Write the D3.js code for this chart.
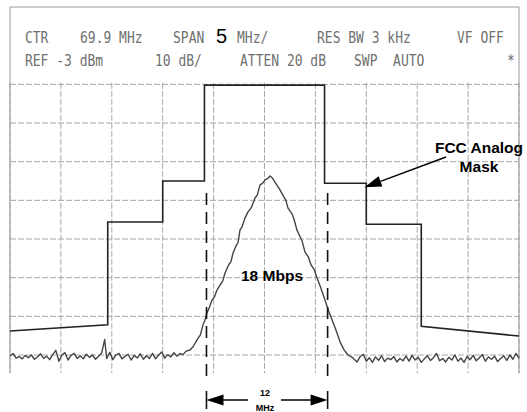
<!DOCTYPE html>
<html>
<head>
<meta charset="utf-8">
<script src="https://cdn.jsdelivr.net/npm/d3@7"></script>
<style>
body { margin: 0; background: #fff; }
</style>
</head>
<body>
<script>
var w = 527;
var h = 412;

// analyzer settings (header)
var headerRow1 = [["CTR", 25], ["69.9 MHz", 80], ["SPAN", 173], ["MHz/", 237], ["RES BW 3 kHz", 317], ["VF OFF", 457]];
var headerRow2 = [["REF -3 dBm", 25], ["10 dB/", 155], ["ATTEN 20 dB", 240], ["SWP  AUTO", 354], ["*", 507]];

// FCC analog mask, [MHz, dBm]
var maskPts = [[44.9, -86.8], [54.5, -85.2], [54.5, -58.6], [59.9, -58.6], [59.9, -48.0], [64.0, -48.0],
    [64.0, -23.2], [75.8, -23.2], [75.8, -48.6], [79.9, -48.6], [79.9, -59.2], [85.3, -59.2],
    [85.3, -85.6], [94.9, -88.1]];

// measured 18 Mbps spectrum, [MHz, dBm]
var tracePts = [
    [44.9, -93.2], [45.2, -92.6], [45.5, -93.8], [45.8, -93.4], [46.1, -94.0], [46.4, -93.1], [46.7, -93.7],
    [47.0, -93.0], [47.3, -94.1], [47.6, -93.5], [47.9, -92.7], [48.2, -93.9], [48.5, -93.3], [48.8, -94.2],
    [49.1, -92.9], [49.4, -91.8], [49.7, -94.6], [50.0, -93.0], [50.3, -92.4], [50.6, -94.3], [50.9, -93.1],
    [51.2, -92.6], [51.5, -93.9], [51.8, -93.2], [52.1, -94.0], [52.4, -92.8], [52.7, -93.6], [53.0, -93.0],
    [53.3, -94.1], [53.6, -93.3], [53.9, -92.5], [54.2, -89.0], [54.4, -93.9], [54.7, -92.3], [55.0, -94.2],
    [55.3, -93.0], [55.6, -92.6], [55.9, -94.0], [56.2, -93.4], [56.5, -92.8], [56.8, -94.3], [57.1, -93.1],
    [57.4, -93.8], [57.7, -92.7], [58.0, -94.1], [58.3, -93.2], [58.6, -93.9], [58.9, -92.6], [59.2, -94.0],
    [59.5, -93.0], [59.8, -92.2], [60.1, -93.8], [60.4, -92.9], [60.7, -93.5], [61.0, -92.4], [61.3, -93.3],
    [61.6, -92.6], [61.9, -92.9], [62.2, -92.0], [62.58, -91.7],
    [62.9, -90.8], [63.27, -89.1], [63.6, -87.8], [63.86, -85.2], [64.05, -84.0], [64.25, -82.1], [64.5, -80.6],
    [64.74, -78.8], [65.0, -77.9], [65.23, -76.2], [65.53, -74.9], [65.8, -73.9], [66.02, -71.8], [66.4, -69.6],
    [66.6, -68.9], [66.81, -66.6], [67.1, -64.8], [67.3, -63.9], [67.49, -60.7], [67.7, -59.8], [67.98, -57.6],
    [68.28, -56.0], [68.6, -54.9], [68.97, -52.4], [69.2, -51.6], [69.46, -49.0], [69.7, -48.6], [69.95, -47.7],
    [70.2, -47.4], [70.44, -46.7], [70.7, -47.3], [70.93, -48.3], [71.2, -49.4], [71.42, -50.3], [71.8, -52.1],
    [72.0, -53.0], [72.21, -55.0], [72.6, -56.5], [72.8, -57.9], [73.09, -60.7], [73.4, -62.4], [73.6, -63.6],
    [73.88, -66.4], [74.2, -67.6], [74.47, -69.7], [74.8, -71.0], [75.06, -73.1], [75.4, -75.4], [75.84, -78.8],
    [76.2, -81.6], [76.53, -83.9], [76.9, -86.4], [77.32, -89.6], [77.7, -91.6], [78.1, -93.0], [78.5, -93.6],
    [78.99, -94.8],
    [79.3, -93.4], [79.6, -92.8], [79.9, -94.6], [80.2, -93.7], [80.5, -94.9], [80.8, -93.5], [81.1, -94.4],
    [81.4, -93.2], [81.7, -94.7], [82.0, -93.8], [82.3, -94.2], [82.6, -93.4], [82.9, -94.8], [83.2, -93.9],
    [83.5, -94.5], [83.8, -93.3], [84.1, -94.6], [84.4, -93.1], [84.7, -94.3], [85.0, -93.6], [85.3, -94.9],
    [85.6, -94.0], [85.9, -93.2], [86.2, -94.4], [86.5, -93.7], [86.8, -92.6], [87.1, -94.5], [87.4, -93.9],
    [87.7, -94.8], [88.0, -93.6], [88.3, -94.3], [88.6, -93.0], [88.9, -94.6], [89.2, -93.8], [89.5, -94.9],
    [89.8, -93.4], [90.1, -94.2], [90.4, -93.1], [90.7, -94.5], [91.0, -93.7], [91.3, -92.9], [91.6, -94.6],
    [91.9, -93.5], [92.2, -94.1], [92.5, -93.3], [92.8, -94.7], [93.1, -93.9], [93.4, -93.2], [93.7, -94.4],
    [94.0, -93.0], [94.3, -94.1], [94.6, -92.6], [94.9, -93.8]];

// 12 MHz channel markers
var chanEdges = [64.2, 76.1];

var xGrid = d3.range(44.9, 95, 5);
var yGrid = d3.range(-23, -94, -10);

var svg = d3.select("body").append("svg").attr("width", w).attr("height", h);

// CTR 69.9 MHz, 5 MHz/div; REF -3 dBm, 10 dB/div
var xS = d3.scaleLinear().domain([44.9, 94.9]).range([10, 519]);
var yS = d3.scaleLinear().domain([-3, -93]).range([7, 355]);
var yBottom = yS(-97.7);
var yHead = yS(-22.6);

// grid
svg.selectAll("line.vg").data(xGrid).enter().append("line")
    .attr("x1", function(d) {return xS(d);}).attr("x2", function(d) {return xS(d);})
    .attr("y1", yHead).attr("y2", yBottom)
    .attr("stroke", "#a8a8a8").attr("stroke-width", 1).attr("stroke-dasharray", "6,2");
svg.selectAll("line.hg").data(yGrid).enter().append("line")
    .attr("x1", xS(44.9)).attr("x2", xS(94.9))
    .attr("y1", function(d) {return yS(d);}).attr("y2", function(d) {return yS(d);})
    .attr("stroke", "#a8a8a8").attr("stroke-width", 1).attr("stroke-dasharray", "6,2");

// header box
svg.append("line").attr("x1", xS(44.9)).attr("x2", xS(94.9)).attr("y1", yS(-3)).attr("y2", yS(-3))
    .attr("stroke", "#999").attr("stroke-width", 1);
[44.9, 94.9].forEach(function(f) {
    svg.append("line").attr("x1", xS(f)).attr("x2", xS(f)).attr("y1", yS(-3)).attr("y2", yBottom)
        .attr("stroke", "#999").attr("stroke-width", 1);
});

function headerRow(row, base) {
    var g = svg.append("g").attr("transform", "translate(0," + base + ") scale(1,1.18)");
    g.selectAll("text").data(row).enter().append("text")
        .text(function(d) {return d[0];})
        .attr("x", function(d) {return d[1];})
        .attr("y", 0)
        .style("white-space", "pre")
        .attr("font-family", "DejaVu Sans Mono")
        .attr("font-size", "13px")
        .attr("fill", "#707070");
}
headerRow(headerRow1, 43);
headerRow(headerRow2, 66);
svg.append("text").text("5").attr("x", 216).attr("y", 43)
    .attr("font-family", "Liberation Sans, Arial").attr("font-size", "20px").attr("fill", "#000");

// mask and trace
var line = d3.line().x(function(d) {return xS(d[0]);}).y(function(d) {return yS(d[1]);});
svg.append("path").attr("d", line(maskPts)).attr("fill", "none")
    .attr("stroke", "#222").attr("stroke-width", 1.6);
svg.append("path").attr("d", line(tracePts)).attr("fill", "none")
    .attr("stroke", "#444").attr("stroke-width", 1.4).attr("stroke-linejoin", "round");

// channel edges
svg.selectAll("line.ch").data(chanEdges).enter().append("line")
    .attr("x1", function(d) {return xS(d);}).attr("x2", function(d) {return xS(d);})
    .attr("y1", 193).attr("y2", 382)
    .attr("stroke", "#111").attr("stroke-width", 1.6).attr("stroke-dasharray", "12,7");
svg.selectAll("line.tk").data(chanEdges).enter().append("line")
    .attr("x1", function(d) {return xS(d);}).attr("x2", function(d) {return xS(d);})
    .attr("y1", 391).attr("y2", 409)
    .attr("stroke", "#111").attr("stroke-width", 1.6);

var ay = 400;
var xl = xS(chanEdges[0]), xr = xS(chanEdges[1]);
svg.append("line").attr("x1", xl + 14).attr("x2", 248).attr("y1", ay).attr("y2", ay).attr("stroke", "#000").attr("stroke-width", 1.5);
svg.append("line").attr("x1", 281).attr("x2", xr - 14).attr("y1", ay).attr("y2", ay).attr("stroke", "#000").attr("stroke-width", 1.5);
svg.append("path").attr("d", "M" + xl + "," + ay + "L" + (xl + 17) + "," + (ay - 5.5) + "L" + (xl + 17) + "," + (ay + 5.5) + "Z").attr("fill", "#000");
svg.append("path").attr("d", "M" + xr + "," + ay + "L" + (xr - 17) + "," + (ay - 5.5) + "L" + (xr - 17) + "," + (ay + 5.5) + "Z").attr("fill", "#000");
svg.append("text").text("12").attr("x", 265).attr("y", 396).attr("text-anchor", "middle")
    .attr("font-family", "Liberation Sans, Arial").attr("font-weight", "bold").attr("font-size", "9px");
svg.append("text").text("MHz").attr("x", 265).attr("y", 411).attr("text-anchor", "middle")
    .attr("font-family", "Liberation Sans, Arial").attr("font-weight", "bold").attr("font-size", "9px");

// labels
svg.append("text").text("18 Mbps").attr("x", 272).attr("y", 281).attr("text-anchor", "middle")
    .attr("font-family", "Liberation Sans, Arial").attr("font-weight", "bold").attr("font-size", "15.5px");
svg.append("text").text("FCC Analog").attr("x", 479).attr("y", 153).attr("text-anchor", "middle")
    .attr("font-family", "Liberation Sans, Arial").attr("font-weight", "bold").attr("font-size", "15.5px");
svg.append("text").text("Mask").attr("x", 479).attr("y", 172).attr("text-anchor", "middle")
    .attr("font-family", "Liberation Sans, Arial").attr("font-weight", "bold").attr("font-size", "15.5px");

// pointer to mask
var p0 = [446, 157], p1 = [xS(75.8) + 40, yS(-48.6) + 4];
var ang = Math.atan2(p1[1] - p0[1], p1[0] - p0[0]);
var hb = [p1[0] - 17 * Math.cos(ang), p1[1] - 17 * Math.sin(ang)];
svg.append("line").attr("x1", p0[0]).attr("y1", p0[1]).attr("x2", hb[0]).attr("y2", hb[1])
    .attr("stroke", "#000").attr("stroke-width", 1.5);
svg.append("path").attr("d", "M" + p1[0] + "," + p1[1] +
    "L" + (hb[0] + 5.5 * Math.sin(ang)) + "," + (hb[1] - 5.5 * Math.cos(ang)) +
    "L" + (hb[0] - 5.5 * Math.sin(ang)) + "," + (hb[1] + 5.5 * Math.cos(ang)) + "Z").attr("fill", "#000");
</script>
</body>
</html>
